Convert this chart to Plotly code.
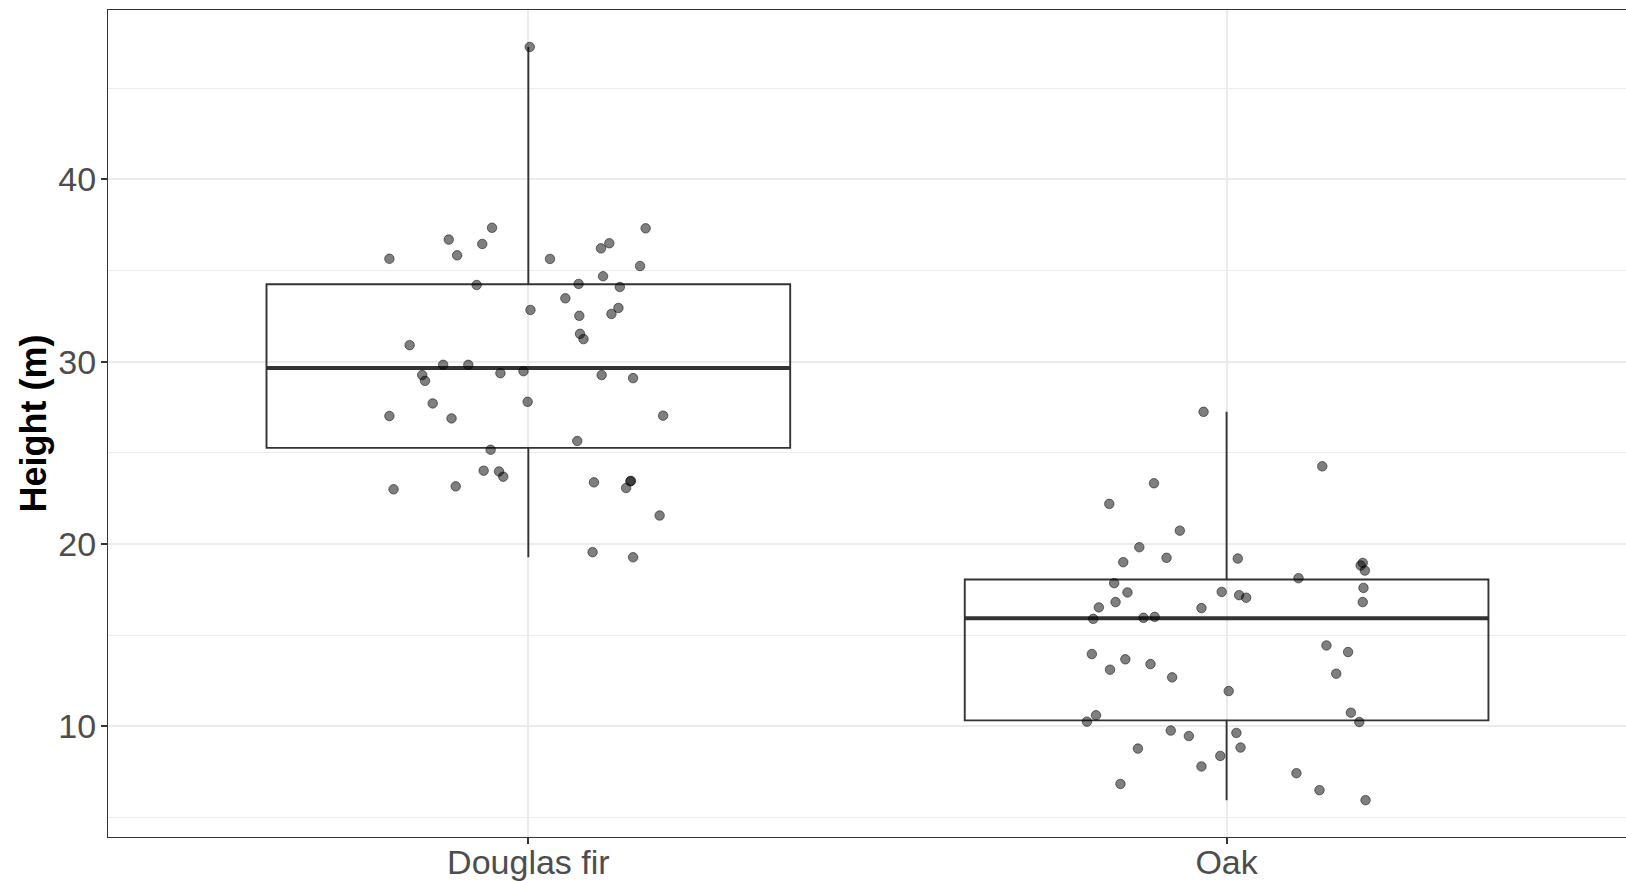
import plotly.graph_objects as go

categories = ["Douglas fir", "Oak"]
cat_pos = [1, 2]
box_width = 0.75

# box statistics
q1 = [25.27, 10.32]
median = [29.65, 15.93]
q3 = [34.25, 18.05]
lowerfence = [19.27, 5.94]
upperfence = [47.27, 27.25]

# jittered points: horizontal jitter offset and height (m)
fir_offset = [-0.199, -0.114, -0.102, -0.066, -0.052, 0.031, 0.104, 0.116, 0.168, 0.160,
              0.107, -0.074, 0.072, 0.131, 0.053, 0.003, 0.129, 0.119, 0.073, 0.074,
              0.079, -0.170, -0.122, -0.086, -0.152, -0.148, -0.040, -0.007, 0.105, 0.150,
              -0.137, -0.001, -0.199, -0.110, 0.193, 0.070, -0.054, -0.064, -0.042, -0.036,
              -0.193, -0.104, 0.094, 0.146, 0.140, 0.188, 0.092, 0.150, 0.002, 0.147]
fir_height = [35.65, 36.70, 35.84, 36.46, 37.35, 35.64, 36.22, 36.50, 37.32, 35.25,
              34.69, 34.21, 34.27, 34.10, 33.48, 32.84, 32.95, 32.62, 32.52, 31.53,
              31.24, 30.91, 29.83, 29.83, 29.27, 28.95, 29.37, 29.48, 29.27, 29.10,
              27.71, 27.80, 27.02, 26.89, 27.04, 25.65, 25.17, 24.02, 23.98, 23.69,
              23.00, 23.16, 23.38, 23.44, 23.07, 21.56, 19.55, 19.27, 47.27, 23.46]

oak_offset = [-0.033, 0.137, -0.104, -0.168, -0.067, -0.125, -0.148, -0.086, 0.016, 0.195,
              0.192, 0.198, 0.103, -0.161, -0.142, -0.159, -0.183, -0.007, 0.018, 0.028,
              -0.036, 0.196, 0.195, -0.191, -0.119, -0.103, -0.193, -0.167, -0.145, -0.109,
              -0.078, 0.003, 0.143, 0.174, 0.157, -0.187, -0.200, 0.178, 0.190, -0.080,
              -0.054, 0.014, -0.127, 0.020, -0.009, -0.036, -0.152, 0.100, 0.133, 0.199]
oak_height = [27.25, 24.26, 23.33, 22.20, 20.73, 19.82, 19.00, 19.24, 19.20, 18.96,
              18.82, 18.54, 18.12, 17.85, 17.34, 16.81, 16.52, 17.37, 17.19, 17.05,
              16.48, 17.59, 16.81, 15.89, 15.95, 16.00, 13.96, 13.10, 13.67, 13.41,
              12.68, 11.93, 14.43, 14.07, 12.88, 10.60, 10.25, 10.74, 10.23, 9.76,
              9.46, 9.63, 8.77, 8.83, 8.37, 7.79, 6.83, 7.42, 6.49, 5.94]

line_col = "#333333"
fig = go.Figure()

for i, c in enumerate(categories):
    fig.add_trace(go.Box(
        x=[cat_pos[i]], q1=[q1[i]], median=[median[i]], q3=[q3[i]],
        lowerfence=[lowerfence[i]], upperfence=[upperfence[i]],
        width=box_width, whiskerwidth=0, boxpoints=False,
        fillcolor="rgba(255,255,255,0)", line=dict(color=line_col, width=1.9),
        name=c, showlegend=False, hoverinfo="skip"))
    fig.add_trace(go.Scatter(
        x=[cat_pos[i] - box_width / 2, cat_pos[i] + box_width / 2],
        y=[median[i], median[i]], mode="lines",
        line=dict(color=line_col, width=4), showlegend=False, hoverinfo="skip"))

for pos, offs, hs in [(cat_pos[0], fir_offset, fir_height), (cat_pos[1], oak_offset, oak_height)]:
    fig.add_trace(go.Scatter(
        x=[pos + o for o in offs], y=hs, mode="markers",
        marker=dict(size=9.5, color="rgba(0,0,0,0.5)",
                    line=dict(color="rgba(0,0,0,0.5)", width=1)),
        showlegend=False))

grid = "#EBEBEB"
fig.update_layout(
    width=1626, height=881, plot_bgcolor="white", paper_bgcolor="white",
    margin=dict(l=108, r=0, t=10, b=44, autoexpand=False),
    font=dict(family="Liberation Sans, Arial, sans-serif", size=34, color="#4D4D4D"),
)
fig.update_xaxes(
    range=[0.398, 2.572], tickmode="array", tickvals=cat_pos, ticktext=categories,
    showgrid=True, gridcolor=grid, gridwidth=1.5, zeroline=False, automargin=False,
    showline=True, mirror=True, linecolor=line_col, linewidth=1.2,
    ticks="outside", ticklen=6, tickwidth=1.5, tickcolor=line_col,
    ticklabelstandoff=-11,
    tickfont=dict(size=34, color="#4D4D4D"))
fig.update_yaxes(
    range=[3.92, 49.3], tickmode="array", tickvals=[10, 20, 30, 40],
    showgrid=True, gridcolor=grid, gridwidth=1.5, zeroline=False, automargin=False,
    showline=True, mirror=False, linecolor=line_col, linewidth=1.2,
    ticks="outside", ticklen=6, tickwidth=1.5, tickcolor=line_col,
    ticklabelstandoff=-2,
    tickfont=dict(size=34, color="#4D4D4D"),
    minor=dict(tickvals=[5, 15, 25, 35, 45], showgrid=True, gridcolor=grid, gridwidth=0.8, ticklen=0),
    title=dict(text="<b>Height (m)</b>", font=dict(size=36, color="black"), standoff=0))

fig.write_html("out.html")
